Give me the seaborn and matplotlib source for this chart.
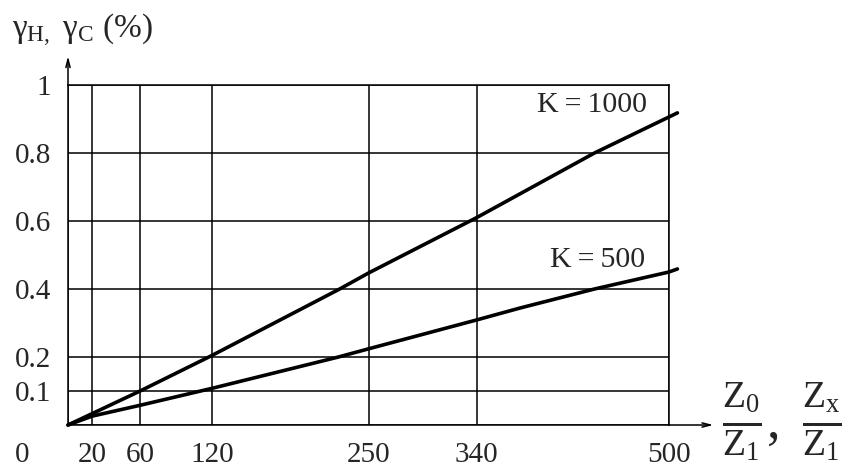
import matplotlib
matplotlib.use("Agg")
import matplotlib.pyplot as plt
import pandas as pd
import seaborn as sns

# ratio Z0/Z1 (or Zx/Z1) and error in %
x_k1000 = [0, 60, 120, 226, 250, 340, 438, 500, 507]
y_k1000 = [0, 0.10, 0.205, 0.40, 0.447, 0.61, 0.80, 0.906, 0.918]
x_k500 = [0, 20, 60, 120, 225, 250, 340, 376, 438, 500, 507]
y_k500 = [0, 0.026, 0.058, 0.108, 0.20, 0.224, 0.309, 0.344, 0.40, 0.45, 0.459]

x_ticks = [0, 20, 60, 120, 250, 340, 500]
y_ticks = [0, 0.1, 0.2, 0.4, 0.6, 0.8, 1]
y_tick_labels = ["", "0.1", "0.2", "0.4", "0.6", "0.8", "1"]

df = pd.concat([
    pd.DataFrame({"ratio": x_k1000, "gamma": y_k1000, "K": "K=1000"}),
    pd.DataFrame({"ratio": x_k500, "gamma": y_k500, "K": "K=500"}),
])

sns.set_style("white")
plt.rcParams["font.family"] = ["Liberation Serif", "DejaVu Serif"]
plt.rcParams["mathtext.fontset"] = "custom"
plt.rcParams["mathtext.rm"] = "Liberation Serif"
plt.rcParams["mathtext.it"] = "Liberation Serif"

fig = plt.figure(figsize=(8.5, 4.7), dpi=100)
ax = fig.add_axes([68 / 850, 45 / 470, 601 / 850, 340 / 470])

sns.lineplot(data=df, x="ratio", y="gamma", units="K", estimator=None,
             color="black", linewidth=2.6, ax=ax, clip_on=False, sort=False)

ax.set_xlim(0, 500)
ax.set_ylim(0, 1)
ax.set_xticks(x_ticks, [""] + [str(t) for t in x_ticks[1:]])
ax.set_yticks(y_ticks, y_tick_labels)
ax.tick_params(length=0, labelsize=21, pad=12)
ax.grid(True, color="black", linewidth=1.1)
for s in ax.spines.values():
    s.set_color("black")
    s.set_linewidth(1.1)
ax.set_xlabel("")
ax.set_ylabel("")

# axis arrows
ax.annotate("", xy=(0, 1.085), xytext=(0, 1.0), xycoords="data",
            annotation_clip=False,
            arrowprops=dict(arrowstyle="->,head_length=0.6,head_width=0.15",
                            color="black", lw=1.1, shrinkA=0, shrinkB=0))
ax.annotate("", xy=(537, 0), xytext=(500, 0), xycoords="data",
            annotation_clip=False,
            arrowprops=dict(arrowstyle="->,head_length=0.6,head_width=0.15",
                            color="black", lw=1.1, shrinkA=0, shrinkB=0))

ax.text(482, 0.94, "K\u2009=\u20091000", fontsize=21.5, ha="right", va="center")
ax.text(480, 0.485, "K\u2009=\u2009500", fontsize=21.5, ha="right", va="center")

fig.text(15 / 850, 1 - 455 / 470, "0", fontsize=21, ha="left", va="center")
fig.text(12 / 850, 1 - 30 / 470,
         r"$\gamma_{\mathrm{Н},}\ \gamma_{\mathrm{С}}$ (%)",
         fontsize=24, ha="left", va="center")
fig.text(722 / 850, 1 - 422 / 470,
         r"$\frac{\mathrm{Z}_0}{\mathrm{Z}_1},\ \frac{\mathrm{Z}_\mathrm{x}}{\mathrm{Z}_1}$",
         fontsize=39, ha="left", va="center")

sns.despine(ax=ax, top=False, right=False)
fig.savefig("out.png", dpi=100)
